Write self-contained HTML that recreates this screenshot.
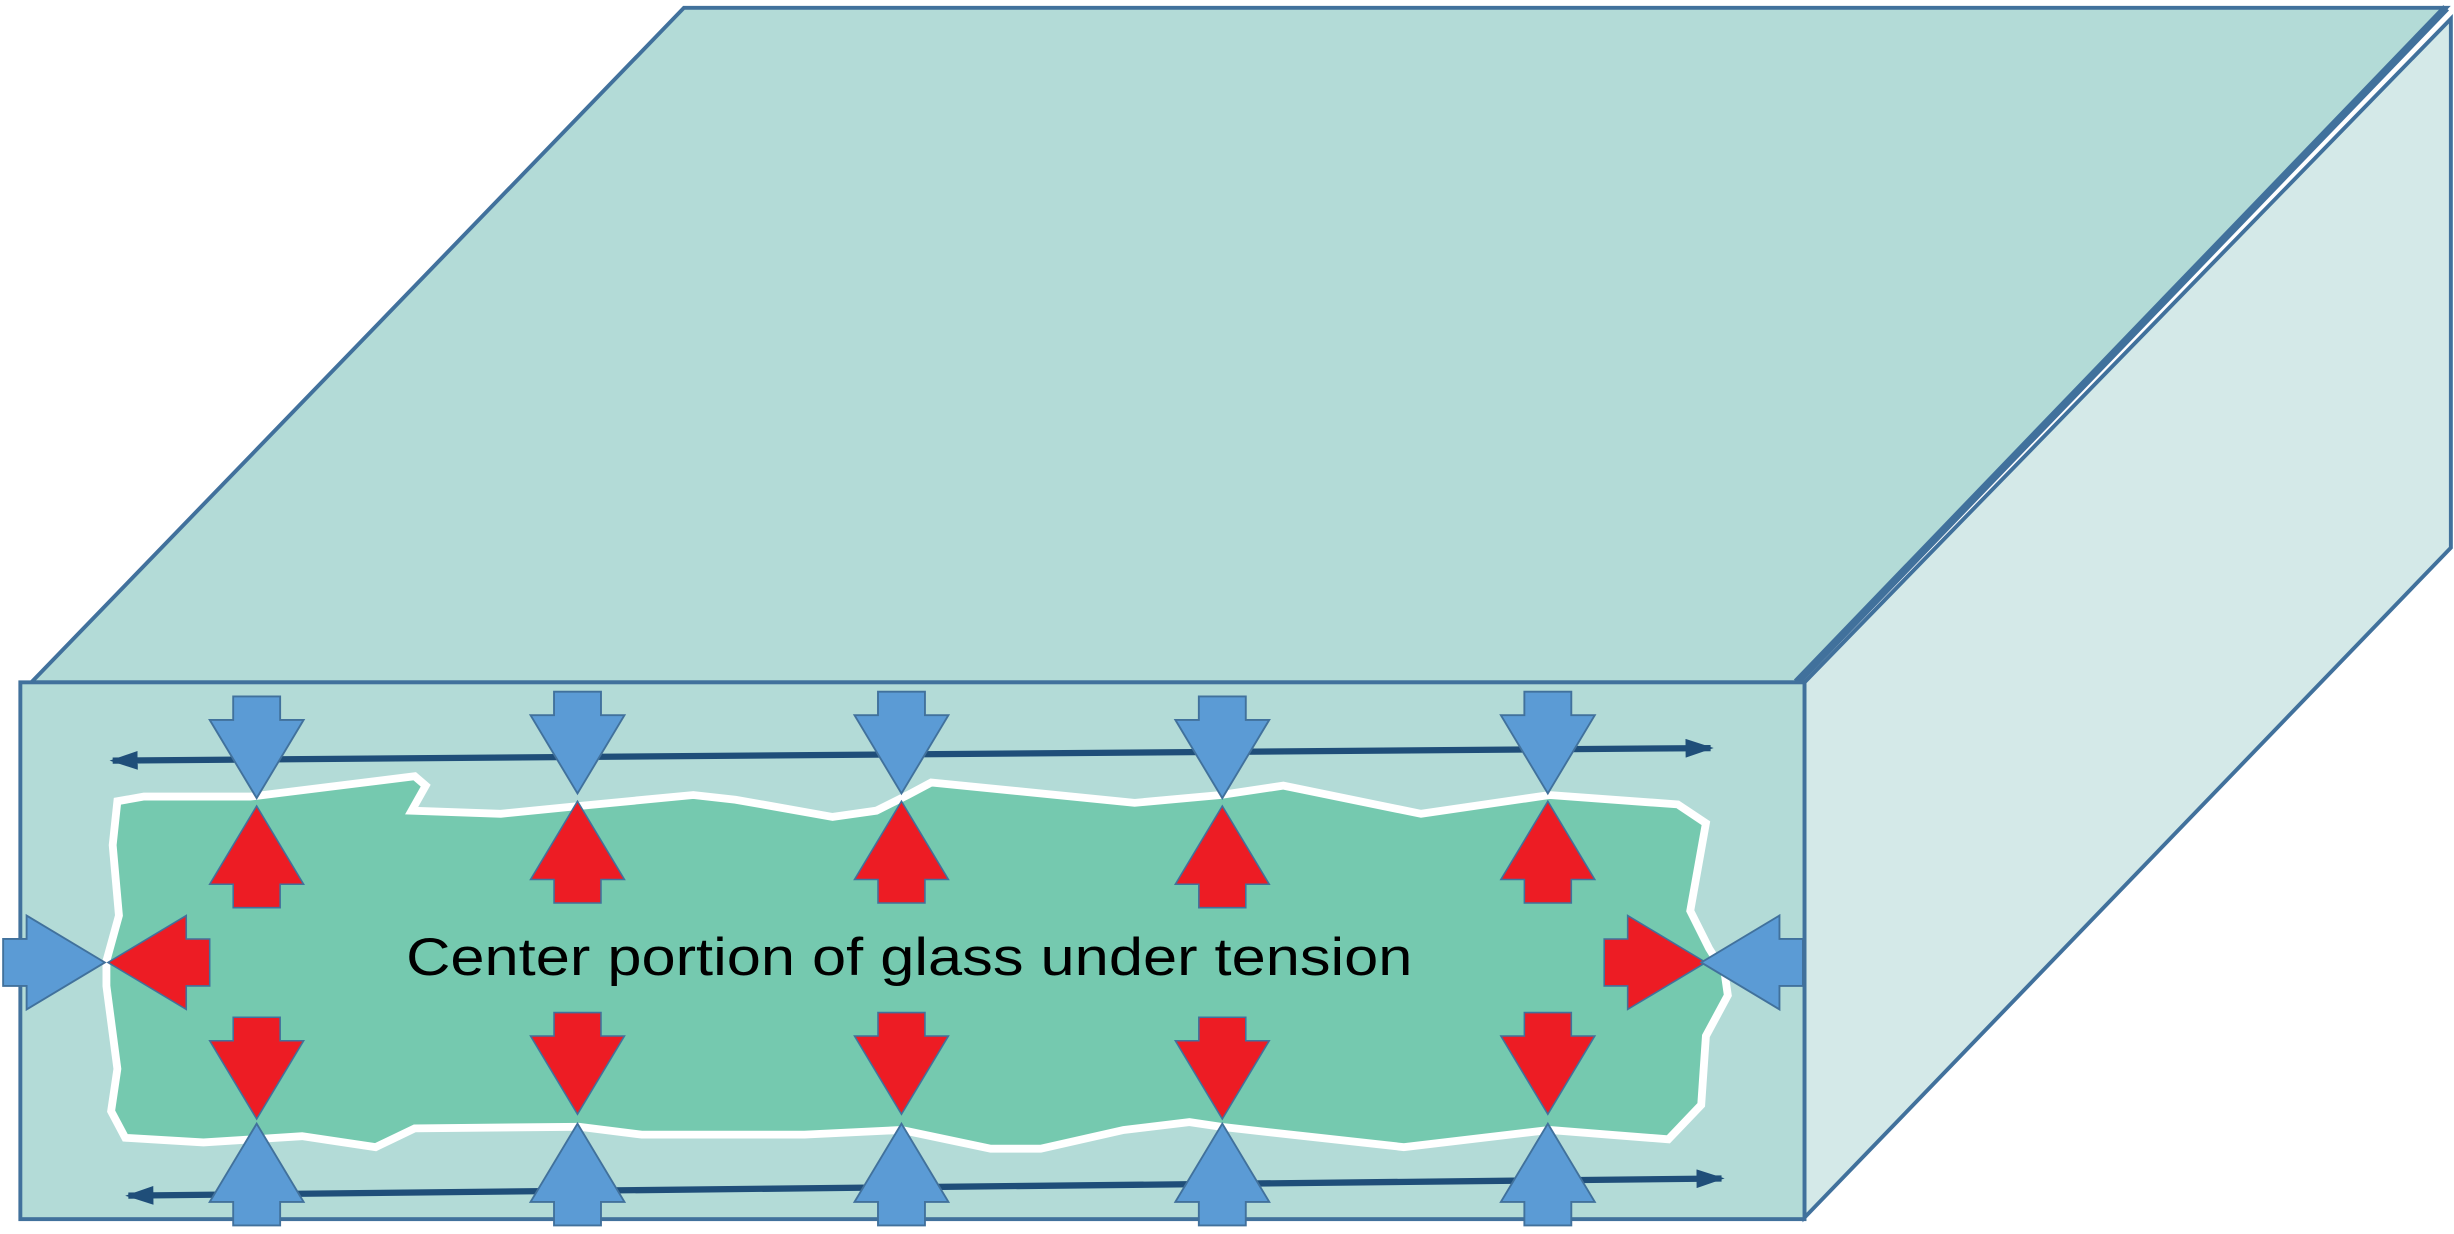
<!DOCTYPE html>
<html><head><meta charset="utf-8"><style>html,body{margin:0;padding:0;background:#fff}svg{display:block}</style></head>
<body>
<svg width="2454" height="1234" viewBox="0 0 1568 788.5" preserveAspectRatio="none" xmlns="http://www.w3.org/2000/svg">
<defs>
<g id="bd"><path d="M-15,0 H15 V15 H30 L0,65 L-30,15 H-15 Z" fill="#5b9bd5" stroke="#41719c" stroke-width="1.2"/></g>
<g id="rd"><path d="M-15,0 H15 V15 H30 L0,65 L-30,15 H-15 Z" fill="#ed1c24" stroke="#41719c" stroke-width="1"/></g>
<marker id="ah" markerWidth="18" markerHeight="12" refX="16" refY="6" orient="auto-start-reverse" markerUnits="userSpaceOnUse"><path d="M0,0 L18,6 L0,12 Z" fill="#1f4e79"/></marker>
</defs>
<polygon points="20,436 437,5 1563,5 1148,436" fill="#b3dbd7" stroke="#41719c" stroke-width="2.5"/>
<polygon points="1153,436 1566,12 1566,350 1153,778" fill="#d4e9e8" stroke="#41719c" stroke-width="2.5"/>
<line x1="1148" y1="436" x2="1563" y2="5" stroke="#41719c" stroke-width="5"/>
<rect x="13" y="436" width="1140" height="343" fill="#b3dbd7" stroke="#41719c" stroke-width="2.5"/>
<path d="M75,512 L92,509 L160,509 L265,496 L272,502 L263,518 L320,520 L370,515 L443,508 L470,511 L532,522 L560,518 L580,508 L595,500 L725,513 L780,508 L820,502 L908,520 L990,508 L1072,514 L1090,526 L1080,582 L1092,606 L1102,622 L1104,636 L1090,662 L1087,706 L1066,728 L990,722 L897,733 L780,720 L760,717 L718,722 L665,734 L633,734 L576,722 L514,725 L410,725 L370,720 L265,721 L240,733 L193,726 L130,730 L80,727 L71,710 L75,683 L68,630 L68,614 L76,585 L72,540 Z" fill="#75c9af" stroke="#fff" stroke-width="5"/>
<line x1="72" y1="486" x2="1093" y2="478" stroke="#1f4e79" stroke-width="4" marker-start="url(#ah)" marker-end="url(#ah)"/>
<line x1="82" y1="764" x2="1100" y2="753" stroke="#1f4e79" stroke-width="4" marker-start="url(#ah)" marker-end="url(#ah)"/>
<g>
<use href="#bd" x="164" y="445"/><use href="#bd" x="369" y="442"/><use href="#bd" x="576" y="442"/><use href="#bd" x="781" y="445"/><use href="#bd" x="989" y="442"/>
<use href="#rd" transform="translate(164,580) scale(1,-1)"/><use href="#rd" transform="translate(369,577) scale(1,-1)"/><use href="#rd" transform="translate(576,577) scale(1,-1)"/><use href="#rd" transform="translate(781,580) scale(1,-1)"/><use href="#rd" transform="translate(989,577) scale(1,-1)"/>
<use href="#rd" x="164" y="650"/><use href="#rd" x="369" y="647"/><use href="#rd" x="576" y="647"/><use href="#rd" x="781" y="650"/><use href="#rd" x="989" y="647"/>
<use href="#bd" transform="translate(164,783) scale(1,-1)"/><use href="#bd" transform="translate(369,783) scale(1,-1)"/><use href="#bd" transform="translate(576,783) scale(1,-1)"/><use href="#bd" transform="translate(781,783) scale(1,-1)"/><use href="#bd" transform="translate(989,783) scale(1,-1)"/>
<use href="#bd" transform="translate(2,615) rotate(-90)"/>
<use href="#rd" transform="translate(134,615) rotate(90)"/>
<use href="#rd" transform="translate(1025,615) rotate(-90)"/>
<use href="#bd" transform="translate(1152,615) rotate(90)"/>
</g>
<text x="581" y="623" font-family="Liberation Sans, sans-serif" font-size="34" text-anchor="middle" textLength="643" lengthAdjust="spacingAndGlyphs" fill="#000">Center portion of glass under tension</text>
</svg>
</body></html>
